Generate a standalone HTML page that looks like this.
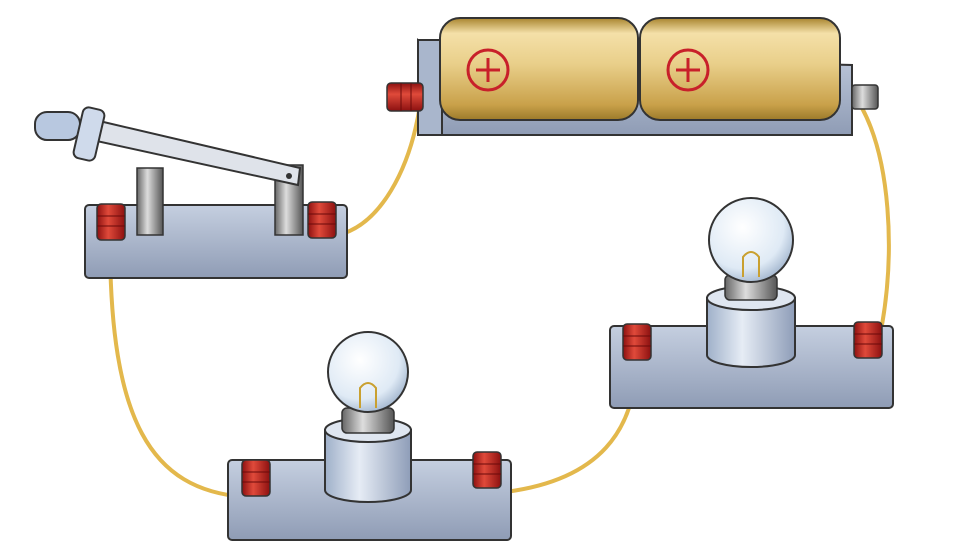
<!DOCTYPE html>
<html><head><meta charset="utf-8"><style>
html,body{margin:0;padding:0;background:#fff;width:976px;height:558px;overflow:hidden}
svg{display:block}
</style></head><body>
<svg width="976" height="558" viewBox="0 0 976 558">
<defs>
<linearGradient id="gold" x1="0" y1="0" x2="0" y2="1">
<stop offset="0" stop-color="#a8842e"/><stop offset="0.15" stop-color="#f4e0a8"/><stop offset="0.45" stop-color="#e9cf8a"/><stop offset="0.85" stop-color="#c9a14a"/><stop offset="1" stop-color="#9c7a2a"/></linearGradient>
<linearGradient id="plate" x1="0" y1="0" x2="0" y2="1"><stop offset="0" stop-color="#c5cfe0"/><stop offset="1" stop-color="#8f9cb5"/></linearGradient>
<linearGradient id="cyl" x1="0" y1="0" x2="1" y2="0"><stop offset="0" stop-color="#9fb0c9"/><stop offset="0.4" stop-color="#e6ecf5"/><stop offset="1" stop-color="#8e9db8"/></linearGradient>
<linearGradient id="red" x1="0" y1="0" x2="1" y2="0"><stop offset="0" stop-color="#8c1010"/><stop offset="0.4" stop-color="#e04a3a"/><stop offset="1" stop-color="#8c1010"/></linearGradient>
<radialGradient id="glass" cx="0.4" cy="0.35" r="0.7"><stop offset="0" stop-color="#ffffff"/><stop offset="0.7" stop-color="#dfeaf5"/><stop offset="1" stop-color="#9fb3cc"/></radialGradient>
<linearGradient id="metal" x1="0" y1="0" x2="1" y2="0"><stop offset="0" stop-color="#666"/><stop offset="0.4" stop-color="#ddd"/><stop offset="1" stop-color="#555"/></linearGradient>
<g id="term"><rect x="-14" y="-18" width="28" height="36" rx="4" fill="url(#red)" stroke="#333" stroke-width="1.5"/><line x1="-14" y1="-6" x2="14" y2="-6" stroke="#6a0a0a"/><line x1="-14" y1="4" x2="14" y2="4" stroke="#6a0a0a"/></g>
</defs>

<!-- wires -->
<g fill="none" stroke="#e3b84c" stroke-width="4">
<path d="M338 235 C 380 225, 410 170, 420 105"/>
<path d="M862 108 C 890 160, 895 250, 882 325"/>
<path d="M637 360 C 635 430, 600 480, 505 492"/>
<path d="M245 497 C 150 490, 110 420, 110 240"/>
</g>

<!-- battery -->
<g>
<path d="M418 40 L440 55 L852 65 L852 135 L418 135 Z" fill="url(#plate)" stroke="#333" stroke-width="2"/>
<rect x="418" y="40" width="24" height="95" fill="#a9b6cc" stroke="#333" stroke-width="2"/>
<rect x="440" y="18" width="198" height="102" rx="20" fill="url(#gold)" stroke="#333" stroke-width="2"/>
<rect x="640" y="18" width="200" height="102" rx="20" fill="url(#gold)" stroke="#333" stroke-width="2"/>
<g stroke="#c8202a" stroke-width="3" fill="none">
<circle cx="488" cy="70" r="20"/><line x1="476" y1="70" x2="500" y2="70"/><line x1="488" y1="58" x2="488" y2="82"/>
<circle cx="688" cy="70" r="20"/><line x1="676" y1="70" x2="700" y2="70"/><line x1="688" y1="58" x2="688" y2="82"/>
</g>
<g transform="translate(405,97) rotate(90)"><use href="#term"/></g>
<rect x="852" y="85" width="26" height="24" rx="3" fill="url(#metal)" stroke="#333" stroke-width="1.5"/>
</g>

<!-- switch -->
<g>
<rect x="85" y="205" width="262" height="73" rx="4" fill="url(#plate)" stroke="#333" stroke-width="2"/>
<rect x="137" y="168" width="26" height="67" fill="url(#metal)" stroke="#333" stroke-width="1.5"/>
<rect x="275" y="165" width="28" height="70" fill="url(#metal)" stroke="#333" stroke-width="1.5"/>
<path d="M95 120 L300 168 L298 185 L92 140 Z" fill="#dfe3ea" stroke="#333" stroke-width="2"/>
<circle cx="289" cy="176" r="3" fill="#333"/>
<rect x="35" y="112" width="45" height="28" rx="12" fill="#b8c8e0" stroke="#333" stroke-width="2"/>
<rect x="78" y="108" width="22" height="52" rx="6" fill="#cfdaeb" stroke="#333" stroke-width="2" transform="rotate(13 89 134)"/>
<g transform="translate(111,222)"><use href="#term"/></g>
<g transform="translate(322,220)"><use href="#term"/></g>
</g>

<!-- bulb 1 -->
<g>
<rect x="228" y="460" width="283" height="80" rx="4" fill="url(#plate)" stroke="#333" stroke-width="2"/>
<path d="M325 430 L325 490 A43 12 0 0 0 411 490 L411 430 Z" fill="url(#cyl)" stroke="#333" stroke-width="2"/>
<ellipse cx="368" cy="430" rx="43" ry="12" fill="#dfe6f0" stroke="#333" stroke-width="2"/>
<rect x="342" y="408" width="52" height="25" rx="5" fill="url(#metal)" stroke="#333" stroke-width="1.5"/>
<circle cx="368" cy="372" r="40" fill="url(#glass)" stroke="#333" stroke-width="2"/>
<path d="M360 408 L360 388 Q368 378 376 388 L376 408" fill="none" stroke="#c9a030" stroke-width="2"/>
<g transform="translate(256,478)"><use href="#term"/></g>
<g transform="translate(487,470)"><use href="#term"/></g>
</g>

<!-- bulb 2 -->
<g>
<rect x="610" y="326" width="283" height="82" rx="4" fill="url(#plate)" stroke="#333" stroke-width="2"/>
<path d="M707 298 L707 355 A44 12 0 0 0 795 355 L795 298 Z" fill="url(#cyl)" stroke="#333" stroke-width="2"/>
<ellipse cx="751" cy="298" rx="44" ry="12" fill="#dfe6f0" stroke="#333" stroke-width="2"/>
<rect x="725" y="275" width="52" height="25" rx="5" fill="url(#metal)" stroke="#333" stroke-width="1.5"/>
<circle cx="751" cy="240" r="42" fill="url(#glass)" stroke="#333" stroke-width="2"/>
<path d="M743 277 L743 257 Q751 247 759 257 L759 277" fill="none" stroke="#c9a030" stroke-width="2"/>
<g transform="translate(637,342)"><use href="#term"/></g>
<g transform="translate(868,340)"><use href="#term"/></g>
</g>
</svg>
</body></html>
